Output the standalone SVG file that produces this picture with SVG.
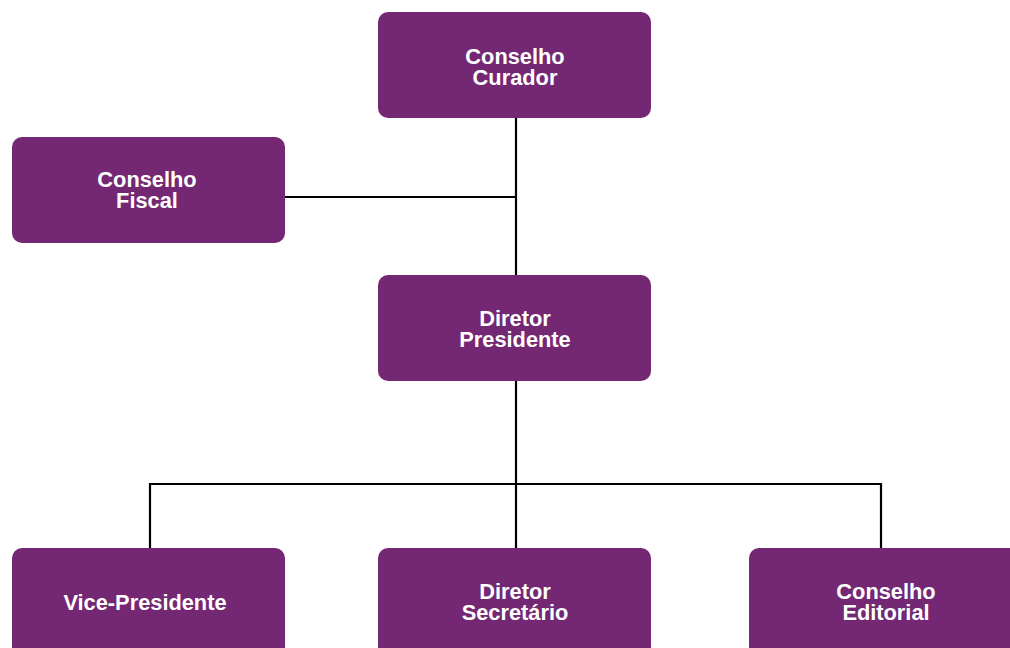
<svg xmlns="http://www.w3.org/2000/svg" width="1010" height="648" viewBox="0 0 1010 648">
  <style>
    .box { fill: #742873; }
    .label { font-family: "Liberation Sans", Arial, Helvetica, sans-serif; font-weight: bold; font-size: 21.8px; fill: #ffffff; text-anchor: middle; }
    .link { fill: none; stroke: #000000; stroke-width: 2.2; }
  </style>
  <rect width="1010" height="648" fill="#ffffff"/>

  <!-- connectors -->
  <g id="connectors">
    <path class="link" d="M516 118 V275"/>
    <path class="link" d="M285 197 H516"/>
    <path class="link" d="M516 381 V548"/>
    <path class="link" d="M150 548 V484 H881 V548"/>
  </g>

  <g id="conselho-curador">
    <rect class="box" x="378" y="12" width="273" height="106" rx="10"/>
    <text class="label" x="515" y="64">Conselho</text>
    <text class="label" x="515" y="85">Curador</text>
  </g>

  <g id="conselho-fiscal">
    <rect class="box" x="12" y="137" width="273" height="106" rx="10"/>
    <text class="label" x="147" y="187">Conselho</text>
    <text class="label" x="147" y="208">Fiscal</text>
  </g>

  <g id="diretor-presidente">
    <rect class="box" x="378" y="275" width="273" height="106" rx="10"/>
    <text class="label" x="515" y="326">Diretor</text>
    <text class="label" x="515" y="347">Presidente</text>
  </g>

  <g id="vice-presidente">
    <rect class="box" x="12" y="548" width="273" height="110" rx="10"/>
    <text class="label" x="145" y="610">Vice-Presidente</text>
  </g>

  <g id="diretor-secretario">
    <rect class="box" x="378" y="548" width="273" height="110" rx="10"/>
    <text class="label" x="515" y="599">Diretor</text>
    <text class="label" x="515" y="620">Secretário</text>
  </g>

  <g id="conselho-editorial">
    <rect class="box" x="749" y="548" width="273" height="110" rx="10"/>
    <text class="label" x="886" y="599">Conselho</text>
    <text class="label" x="886" y="620">Editorial</text>
  </g>
</svg>
